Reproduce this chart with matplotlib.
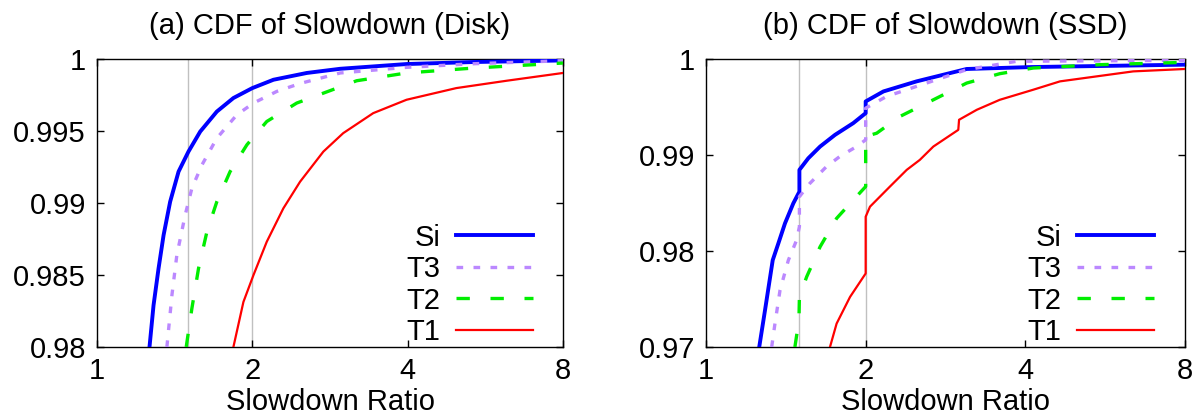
import numpy as np
import matplotlib
matplotlib.use('Agg')
import matplotlib.pyplot as plt

plt.rcParams['font.family'] = ['Liberation Sans', 'DejaVu Sans']

# ---- data ----
x_ticks = [1, 2, 4, 8]
x_ticklabels = ['1', '2', '4', '8']
grid_x = [1.5, 2]

disk_yticks = [0.98, 0.985, 0.99, 0.995, 1.0]
disk_yticklabels = ['0.98', '0.985', '0.99', '0.995', '1']
ssd_yticks = [0.97, 0.98, 0.99, 1.0]
ssd_yticklabels = ['0.97', '0.98', '0.99', '1']

# (a) Disk
si_disk_x = [1.264, 1.287, 1.316, 1.346, 1.386, 1.439, 1.504, 1.585, 1.707, 1.838, 2.0, 2.198,
             2.55, 2.96, 3.98, 5.36, 8.0]
si_disk_y = [0.98, 0.9829, 0.98545, 0.98777, 0.99009, 0.99218, 0.99357, 0.99496, 0.99635, 0.99729,
             0.99798, 0.99856, 0.99903, 0.99932, 0.99965, 0.99979, 0.9999]
t3_disk_x = [1.366, 1.397, 1.428, 1.482, 1.527, 1.597, 1.707, 1.866, 2.01, 2.231, 2.475, 2.96,
             3.98, 5.36, 8.0]
t3_disk_y = [0.98, 0.9836, 0.98638, 0.98916, 0.99102, 0.99264, 0.9945, 0.99612, 0.99694, 0.99775,
             0.99830, 0.99903, 0.99942, 0.99967, 0.99988]
t2_disk_x = [1.489, 1.527, 1.573, 1.633, 1.707, 1.811, 1.952, 2.133, 2.438, 3.186, 3.98, 5.36, 8.0]
t2_disk_y = [0.98, 0.98267, 0.98545, 0.988, 0.99009, 0.99218, 0.99404, 0.99566, 0.99694, 0.99849,
             0.99903, 0.99937, 0.99972]
t1_disk_x = [1.838, 1.922, 2.01, 2.133, 2.297, 2.475, 2.746, 3.0, 3.43, 3.98, 4.97, 6.22, 8.0]
t1_disk_y = [0.98, 0.98313, 0.98499, 0.98731, 0.98963, 0.99148, 0.99357, 0.99485, 0.99624, 0.99717,
             0.99798, 0.99849, 0.99903]

# (b) SSD
si_ssd_x = [1.26, 1.292, 1.336, 1.369, 1.409, 1.461, 1.5, 1.5, 1.559, 1.641, 1.751, 1.895, 2.0, 2.0,
            2.16, 2.495, 3.1, 4.1, 8.0]
si_ssd_y = [0.97, 0.97383, 0.97905, 0.98079, 0.98288, 0.98497, 0.98618, 0.98845, 0.98966, 0.99088,
            0.9921, 0.99332, 0.99436, 0.99558, 0.99662, 0.99767, 0.99896, 0.99916, 0.99941]
t3_ssd_x = [1.33, 1.349, 1.379, 1.43, 1.482, 1.5, 1.5, 1.57, 1.687, 1.787, 1.923, 2.0, 2.0, 2.19,
            2.495, 3.1, 3.85, 8.0]
t3_ssd_y = [0.97, 0.97244, 0.97592, 0.97905, 0.98114, 0.98253, 0.98566, 0.98705, 0.98879, 0.98984,
            0.99088, 0.99158, 0.99488, 0.9961, 0.99715, 0.99889, 0.99976, 0.99986]
t2_ssd_x = [1.471, 1.497, 1.5, 1.548, 1.641, 1.763, 1.895, 2.0, 2.0, 2.098, 2.32, 2.683, 3.1, 3.58,
            4.14, 5.53, 8.0]
t2_ssd_y = [0.97, 0.9728, 0.9752, 0.97731, 0.98044, 0.9834, 0.98531, 0.98671, 0.99193, 0.99227,
            0.99401, 0.99575, 0.99749, 0.99847, 0.99906, 0.99941, 0.99965]
t1_ssd_x = [1.713, 1.763, 1.869, 2.0, 2.0, 2.038, 2.222, 2.39, 2.53, 2.683, 2.99, 3.0, 3.24, 3.58,
            4.14, 4.65, 6.39, 8.0]
t1_ssd_y = [0.97, 0.97244, 0.97522, 0.97766, 0.98357, 0.98462, 0.98671, 0.98845, 0.98949, 0.99088,
            0.99262, 0.99367, 0.99471, 0.99575, 0.9968, 0.99767, 0.99871, 0.99896]

labels = ['Si', 'T3', 'T2', 'T1']
styles = [
    dict(color='#0000ff', lw=2.8, ls='-'),
    dict(color='#bb88ff', lw=2.4, ls=(0, (2.0, 3.1))),
    dict(color='#00ee00', lw=2.4, ls=(0, (4.0, 6.2))),
    dict(color='#ff0000', lw=1.6, ls='-'),
]

FS = 21


def draw(ax, series, yticks, yticklabels, title):
    for gx in grid_x:
        ax.axvline(gx, color='#c0c0c0', lw=1.0, zorder=1)
    for (xs, ys), lab, st in zip(series, labels, styles):
        ax.plot(xs, ys, label=lab, zorder=3, **st)
    ax.set_xscale('log', base=2)
    ax.set_xlim(1, 8)
    ax.set_ylim(yticks[0], yticks[-1])
    ax.set_xticks(x_ticks)
    ax.set_xticklabels(x_ticklabels)
    ax.minorticks_off()
    ax.set_yticks(yticks)
    ax.set_yticklabels(yticklabels)
    ax.tick_params(direction='in', length=5, width=1, top=True, right=True, labelsize=FS)
    ax.tick_params(axis='y', pad=8)
    ax.tick_params(axis='x', pad=7)
    for sp in ax.spines.values():
        sp.set_linewidth(1.0)
    ax.set_xlabel('Slowdown Ratio', fontsize=FS, labelpad=2)
    ax.set_title(title, fontsize=FS, pad=18)
    ax.legend(loc='lower right', bbox_to_anchor=(0.936, 0.003), frameon=False, markerfirst=False,
              handlelength=2.64, handletextpad=0.55, labelspacing=0.12, borderpad=0,
              borderaxespad=0, fontsize=FS)


fig = plt.figure(figsize=(12.03, 4.19), dpi=100)
ax1 = fig.add_axes([97 / 1203, 72 / 419, 466 / 1203, 288 / 419])
ax2 = fig.add_axes([706 / 1203, 72 / 419, 479 / 1203, 288 / 419])

draw(ax1, [(si_disk_x, si_disk_y), (t3_disk_x, t3_disk_y), (t2_disk_x, t2_disk_y), (t1_disk_x, t1_disk_y)],
     disk_yticks, disk_yticklabels, '(a) CDF of Slowdown (Disk)')
draw(ax2, [(si_ssd_x, si_ssd_y), (t3_ssd_x, t3_ssd_y), (t2_ssd_x, t2_ssd_y), (t1_ssd_x, t1_ssd_y)],
     ssd_yticks, ssd_yticklabels, '(b) CDF of Slowdown (SSD)')

fig.savefig('out.png', dpi=100)
